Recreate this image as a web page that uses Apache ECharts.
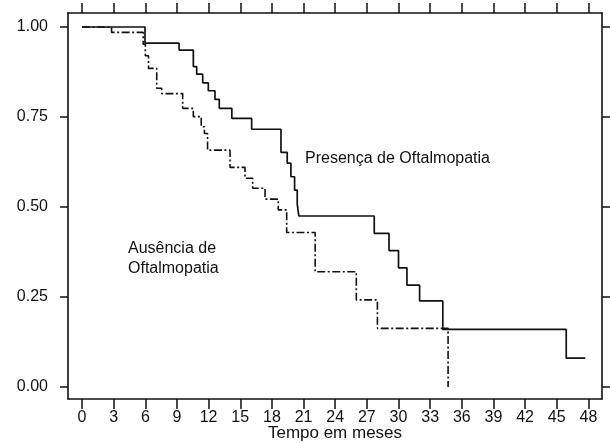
<!DOCTYPE html>
<html><head><meta charset="utf-8">
<script src="https://cdn.jsdelivr.net/npm/echarts@6/dist/echarts.min.js"></script>
<style>html,body{margin:0;padding:0;background:#fff}#c{width:610px;height:443px}</style>
</head><body><div id="c"></div>
<script>
// Tick labels
const xTickValues = [0,3,6,9,12,15,18,21,24,27,30,33,36,39,42,45,48];
const yTickValues = [0,0.25,0.5,0.75,1];

// Presença de Oftalmopatia (solid) - step times (months) and survival
const presencaTime = [0,5.97,9.2,10.55,10.87,11.44,11.97,12.6,13.01,14.2,16.08,18.86,19.45,19.8,20.15,20.4,20.55,27.7,29.1,30.0,30.8,32.0,34.2,45.9,47.7];
const presencaSurv = [1,0.955,0.936,0.890,0.869,0.845,0.823,0.799,0.774,0.746,0.716,0.652,0.622,0.584,0.547,0.508,0.475,0.427,0.379,0.331,0.283,0.239,0.160,0.080,0.080];

// Ausência de Oftalmopatia (dash-dot)
const ausenciaTime = [0,2.8,5.8,6.0,6.3,7.08,7.55,9.54,10.55,11.3,11.6,11.9,14.03,15.45,16.18,17.35,18.6,19.4,22.1,26.0,28.0,34.7];
const ausenciaSurv = [1,0.985,0.952,0.92,0.885,0.830,0.815,0.774,0.751,0.723,0.704,0.658,0.610,0.580,0.552,0.522,0.492,0.429,0.320,0.242,0.163,0.0];

const labelPresenca = 'Presença de Oftalmopatia';
const labelAusencia = ['Ausência de','Oftalmopatia'];

const zip = (a,b) => a.map((t,i)=>[t,b[i]]);
const FONT = '"Liberation Sans", Arial, sans-serif';
const INK = '#111';

const chart = echarts.init(document.getElementById('c'), null, {renderer:'canvas'});
const xMin = -1.33, xMax = 49.29, yMin = -0.0333, yMax = 1.0389;
const axisLine = {show:true, onZero:false, lineStyle:{color:INK, width:1.6}};
chart.setOption({
  animation:false,
  backgroundColor:'#fff',
  grid:{left:68, right:8, top:13, bottom:44, containLabel:false, outerBoundsMode:'none'},
  xAxis:[{
    type:'value', position:'bottom', min:xMin, max:xMax,
    axisLine:axisLine,
    axisTick:{show:true, length:10, customValues:xTickValues, lineStyle:{color:INK, width:1.5}},
    axisLabel:{show:true, customValues:xTickValues, margin:11, fontFamily:FONT, fontSize:16, color:INK},
    splitLine:{show:false},
    name:'Tempo em meses', nameLocation:'middle', nameGap:26, nameMoveOverlap:false,
    nameTextStyle:{fontFamily:FONT, fontSize:17, color:INK}
  },{
    type:'value', position:'top', min:xMin, max:xMax,
    axisLine:axisLine,
    axisTick:{show:true, length:10, customValues:xTickValues, lineStyle:{color:INK, width:1.5}},
    axisLabel:{show:false},
    splitLine:{show:false}
  }],
  yAxis:[{
    type:'value', position:'left', min:yMin, max:yMax,
    axisLine:axisLine,
    axisTick:{show:true, length:8, customValues:yTickValues, lineStyle:{color:INK, width:1.5}},
    axisLabel:{show:true, customValues:yTickValues, margin:20, fontFamily:FONT, fontSize:16, color:INK,
      formatter:v=>Number(v).toFixed(2)},
    splitLine:{show:false}
  },{
    type:'value', position:'right', min:yMin, max:yMax,
    axisLine:axisLine,
    axisTick:{show:true, length:8, customValues:yTickValues, lineStyle:{color:INK, width:1.5}},
    axisLabel:{show:false},
    splitLine:{show:false}
  }],
  series:[{
    type:'line', name:labelPresenca, step:'end', showSymbol:false, symbol:'none',
    data:zip(presencaTime, presencaSurv),
    lineStyle:{color:'#111', width:1.7, type:'solid'}
  },{
    type:'line', name:labelAusencia.join(' '), step:'end', showSymbol:false, symbol:'none',
    data:zip(ausenciaTime, ausenciaSurv),
    lineStyle:{color:'#111', width:1.6, type:[8,2.5,2,2.5]}
  }],
  graphic:[{
    type:'text', left:305, top:151,
    style:{text:labelPresenca, font:'16px '+FONT, fill:INK}
  },{
    type:'text', left:128, top:239,
    style:{text:labelAusencia.join('\n'), font:'16px '+FONT, fill:INK, lineHeight:20}
  }]
});
</script></body></html>
